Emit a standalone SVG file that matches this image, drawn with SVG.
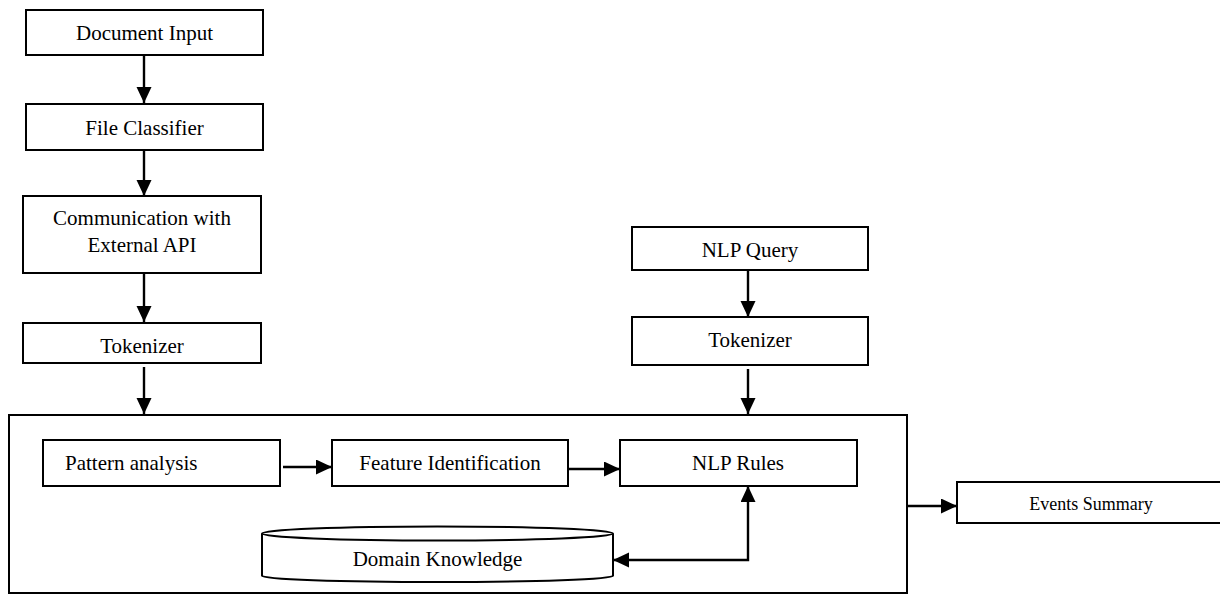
<svg xmlns="http://www.w3.org/2000/svg" width="1220" height="594" viewBox="0 0 1220 594">
<style>
.box{fill:#fff;stroke:#000;stroke-width:2}
.t{font-family:"Liberation Serif","Times New Roman",serif;font-size:21px;fill:#000;text-anchor:middle}
.ts{font-family:"Liberation Serif","Times New Roman",serif;font-size:18px;fill:#000;text-anchor:middle}
.c{fill:none;stroke:#000;stroke-width:2.4}
</style>
<defs>
<marker id="ah" markerUnits="userSpaceOnUse" markerWidth="17" markerHeight="16" refX="16" refY="7.5" orient="auto-start-reverse">
<path d="M0,0 L16,7.5 L0,15 z" fill="#000"/>
</marker>
</defs>
<rect x="0" y="0" width="1220" height="594" fill="#fff"/>
<g id="container">
<rect class="box" x="9" y="415" width="898" height="178"/>
</g>
<g id="doc-input"><rect class="box" x="26" y="10" width="237" height="45"/><text class="t" x="144.5" y="40">Document Input</text></g>
<g id="file-classifier"><rect class="box" x="26" y="104" width="237" height="46"/><text class="t" x="144.5" y="135">File Classifier</text></g>
<g id="comm-api"><rect class="box" x="23" y="196" width="238" height="77"/><text class="t" x="142" y="225">Communication with</text><text class="t" x="142" y="252">External API</text></g>
<g id="tokenizer-left"><rect class="box" x="23" y="323" width="238" height="40"/><text class="t" x="142" y="353">Tokenizer</text></g>
<g id="nlp-query"><rect class="box" x="632" y="227" width="236" height="43"/><text class="t" x="750" y="257">NLP Query</text></g>
<g id="tokenizer-right"><rect class="box" x="632" y="317" width="236" height="48"/><text class="t" x="750" y="347">Tokenizer</text></g>
<g id="pattern-analysis"><rect class="box" x="43" y="440" width="237" height="46"/><text class="t" x="65" y="470" style="text-anchor:start">Pattern analysis</text></g>
<g id="feature-id"><rect class="box" x="332" y="440" width="236" height="46"/><text class="t" x="450" y="470">Feature Identification</text></g>
<g id="nlp-rules"><rect class="box" x="620" y="440" width="237" height="46"/><text class="t" x="738" y="470">NLP Rules</text></g>
<g id="domain-knowledge">
<path class="box" d="M262,533.5 L262,576 A175.5,6 0 0 0 613,576 L613,533.5"/>
<ellipse class="box" cx="437.5" cy="533.5" rx="175.5" ry="7"/>
<text class="t" x="437.5" y="566">Domain Knowledge</text>
</g>
<g id="events-summary"><rect class="box" x="957" y="482" width="270" height="41"/><text class="ts" x="1091" y="510">Events Summary</text></g>
<g id="connectors">
<line class="c" x1="144" y1="55" x2="144" y2="103" marker-end="url(#ah)"/>
<line class="c" x1="144" y1="150" x2="144" y2="196" marker-end="url(#ah)"/>
<line class="c" x1="144" y1="273" x2="144" y2="322" marker-end="url(#ah)"/>
<line class="c" x1="144" y1="367" x2="144" y2="414" marker-end="url(#ah)"/>
<line class="c" x1="748" y1="270" x2="748" y2="317" marker-end="url(#ah)"/>
<line class="c" x1="748" y1="369" x2="748" y2="414" marker-end="url(#ah)"/>
<line class="c" x1="283" y1="467" x2="332" y2="467" marker-end="url(#ah)"/>
<line class="c" x1="568" y1="469" x2="620" y2="469" marker-end="url(#ah)"/>
<polyline class="c" points="613,560 748,560 748,486" marker-start="url(#ah)" marker-end="url(#ah)"/>
<line class="c" x1="907" y1="506" x2="957" y2="506" marker-end="url(#ah)"/>
</g>
</svg>
